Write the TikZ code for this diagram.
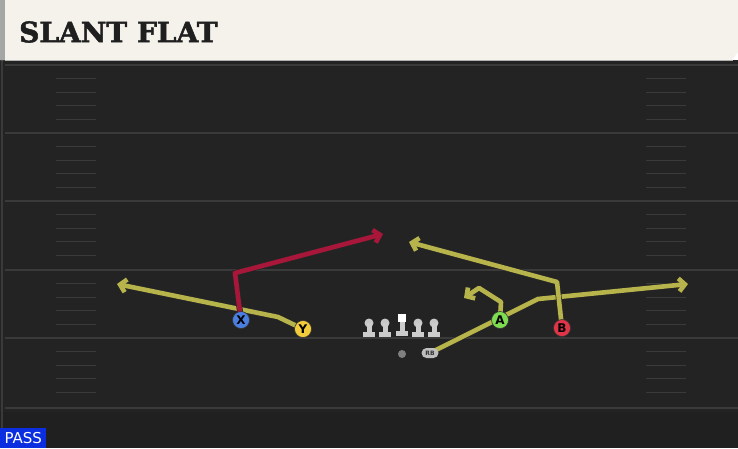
\documentclass[tikz,border=0pt]{standalone}
\usepackage{fontspec}
\newfontfamily\titlefont[BoldFeatures={FakeBold=2}]{DejaVu Serif}
\newfontfamily\labelfont{DejaVu Sans}
\usetikzlibrary{arrows.meta,shapes.misc}
\definecolor{fieldgray}{HTML}{232323}
\definecolor{markgray}{HTML}{3A3A3A}
\definecolor{titlecream}{HTML}{F4F2EB}
\definecolor{routeyellow}{HTML}{B7B44C}
\definecolor{routered}{HTML}{A8163A}
\definecolor{playerblue}{HTML}{4A7FE0}
\definecolor{playeryellow}{HTML}{F2CC3A}
\definecolor{playergreen}{HTML}{7DDC50}
\definecolor{playerred}{HTML}{E03548}
\definecolor{passblue}{HTML}{0A2EE0}
\pgfdeclarelayer{field}
\pgfdeclarelayer{background}
\pgfsetlayers{field,background,main}

\begin{document}
\begin{tikzpicture} [
                x=1pt, y=-1pt,
                player/.style={circle,draw=black!80,line width=0.6pt,minimum size=17pt,inner sep=0pt,font=\labelfont\bfseries\fontsize{12}{12}\selectfont},
                blocker head/.style={circle,fill=black!22,minimum size=9pt,inner sep=0pt},
                blocker body/.style={fill=black!20},
                yard line/.style={draw=markgray,line width=1.6pt},
                hash mark/.style={draw=markgray,line width=1.2pt},
                route/.style={draw,line width=4.6pt,line join=round,preaction={draw=black!85,line width=6pt}},
                route tip/.style={-{Straight Barb[length=6pt,width=13pt]}}
            ]
            \useasboundingbox (0,0) rectangle (738,448);
            % First the field and the title bar
            \begin{pgfonlayer}{field}
                \fill[fieldgray] (0,60) rectangle (738,448);
                \fill[black!10!fieldgray] (0,412) rectangle (738,448);
                \draw[markgray,line width=1.2pt] (2,60) -- (2,448);
                \fill[titlecream] (0,0) -- (738,0) -- (738,52) -- (732,60) -- (0,60) -- cycle;
                \fill[black!35] (0,0) rectangle (5,60);
                \draw[black!30,line width=1pt] (5,60) -- (733,60);
                % Yard lines and hash marks
                \foreach \y in {65,133,201,270,338,408}
                    \path[yard line] (5,\y) -- (738,\y);
                \foreach \y in {65,133,201,270,338}
                    \foreach \k in {1,...,4} {
                        \path[hash mark] (56,\y+\k*13.6) -- (96,\y+\k*13.6);
                        \path[hash mark] (646,\y+\k*13.6) -- (686,\y+\k*13.6);
                    }
            \end{pgfonlayer}
            \node[anchor=west,inner sep=0pt,text=black!88,font=\titlefont\bfseries\fontsize{28}{28}\selectfont] (title) at (19,32) {SLANT FLAT};
            % The line
            \foreach \pos/\name in {{(369,323)/lt}, {(385,323)/lg}, {(418,323)/rg}, {(434,323)/rt}} {
                \node[blocker head] (\name) at \pos {};
                \fill[blocker body] ([xshift=-2.5pt]\name.center) rectangle ([xshift=2.5pt,yshift=-9pt]\name.center);
                \fill[blocker body] ([xshift=-6pt,yshift=-9pt]\name.center) rectangle ([xshift=6pt,yshift=-14pt]\name.center);
            }
            \node[fill=white,minimum size=8pt,inner sep=0pt] (c) at (402,318) {};
            \fill[blocker body] ([xshift=-2.5pt]c.south) rectangle ([xshift=2.5pt,yshift=-9pt]c.south);
            \fill[blocker body] ([xshift=-6pt,yshift=-9pt]c.south) rectangle ([xshift=6pt,yshift=-14pt]c.south);
            \node[circle,fill=black!50,minimum size=8pt,inner sep=0pt] (qb) at (402,354) {};
            \node[rounded rectangle,fill=black!25,minimum width=17pt,minimum height=10pt,inner sep=0pt,font=\labelfont\bfseries\fontsize{6}{6}\selectfont,text=black!80] (rb) at (430,353) {RB};
            % Receivers
            \foreach \pos/\name/\col in {{(241,320)/X/playerblue}, {(303,329)/Y/playeryellow},
                                         {(500,320)/A/playergreen}, {(562,328)/B/playerred}}
                \node[player,fill=\col] (\name) at \pos {\name};
            % Route corners
            \coordinate (y1) at (278,317);  \coordinate (y2) at (117,284);
            \coordinate (x1) at (235,273);  \coordinate (x2) at (383,234);
            \coordinate (r1) at (538,299);  \coordinate (r2) at (688,284);
            \coordinate (a1) at (501,302);  \coordinate (a2) at (479,288);  \coordinate (a3) at (464,298);
            \coordinate (b1) at (557,282);  \coordinate (b2) at (409,242);
            % Routes go on the background layer, under the players
            \begin{pgfonlayer}{background}
                \path[route,routeyellow,route tip] (Y.center) -- (y1) -- (y2);
                \path[route,routeyellow,route tip] (rb.center) -- (r1) -- (r2);
                \path[route,routeyellow,route tip] (A.center) -- (a1) -- (a2) -- (a3);
                \path[route,routeyellow,route tip] (B.center) -- (b1) -- (b2);
                \path[route,routered,route tip] (X.center) -- (x1) -- (x2);
            \end{pgfonlayer}
            \node[fill=passblue,text=white,anchor=south west,minimum width=46pt,minimum height=20pt,inner sep=0pt,font=\labelfont\fontsize{15}{15}\selectfont] (play type) at (0,448) {PASS};
        \end{tikzpicture}
\end{document}
